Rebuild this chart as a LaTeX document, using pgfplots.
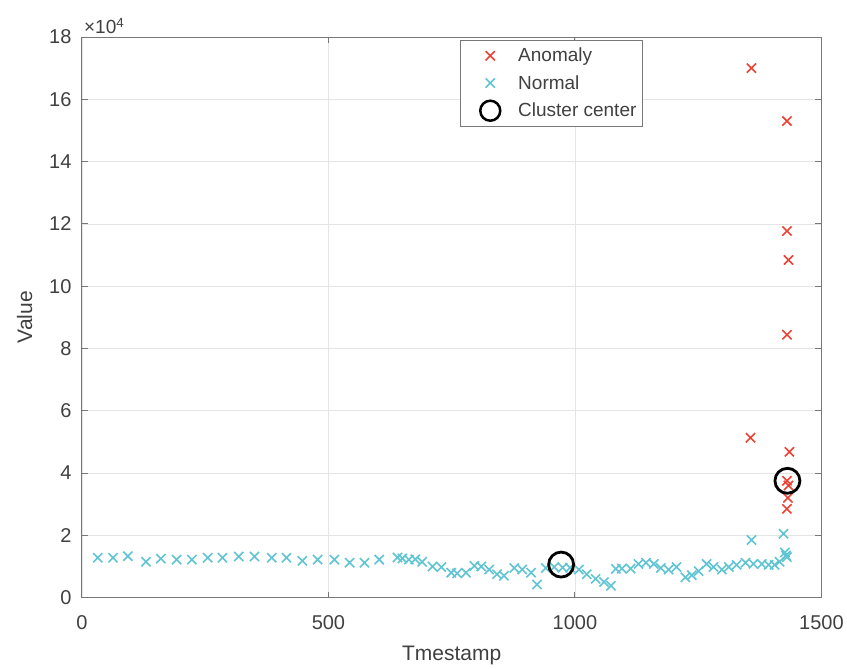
\documentclass[border=0pt]{standalone}
\usepackage{pgfplots}
\pgfplotsset{compat=1.18}
\usepackage{fontspec}
\setmainfont{Liberation Sans}
\definecolor{anom}{RGB}{234,67,53}
\definecolor{norm}{RGB}{96,196,210}
\definecolor{txt}{RGB}{64,64,64}
\definecolor{axc}{RGB}{120,120,120}
\pgfplotsset{myleg/.style={legend image code/.code={\path[draw=none,fill=none] (0pt,-1pt) rectangle (52pt,1pt);\draw[##1, only marks] plot coordinates {(26pt,0pt)};}}}
\begin{document}
\begin{tikzpicture}
\begin{axis}[name=ax, scale only axis, width=740pt, height=561pt,
  xmin=0, xmax=1500, ymin=0, ymax=180000,
  xtick={0,500,1000,1500}, xticklabels={0,500,1000,1500},
  ytick={0,20000,40000,60000,80000,100000,120000,140000,160000,180000},
  yticklabels={0,2,4,6,8,10,12,14,16,18},
  scaled y ticks=false, scaled x ticks=false,
  tick align=inside, major tick length=6pt,
  grid=major, grid style={line width=0.6pt, black!10},
  axis line style={axc, line width=0.9pt},
  tick style={axc, line width=0.9pt},
  /pgf/number format/assume math mode=true,
  ticklabel style={font=\fontsize{20}{24}\selectfont, text=txt},
  xticklabel style={yshift=-14pt},
  yticklabel style={xshift=-7pt},
  xlabel={Tmestamp}, ylabel={Value},
  label style={font=\fontsize{21}{25}\selectfont, text=txt},
  xlabel style={yshift=-10pt},
  ylabel style={yshift=10pt},
  every axis plot post/.append style={myleg},
  legend style={at={(rel axis cs:0.511,0.995)}, anchor=north west, draw=axc, line width=0.9pt, font=\fontsize{19}{23}\selectfont, text=txt, row sep=8pt, inner xsep=4pt, inner ysep=6pt},
  legend cell align=left,
  clip=false,
]
\addplot[only marks, mark=x, mark size=6.5pt, draw=anom, mark options={line width=1.6pt}] coordinates {
(1358,170000) (1430,153000) (1430,117700) (1433,108400) (1430,84400)
(1356,51300) (1435,46800) (1430,37500) (1433,36000) (1432,32000) (1430,28500)
};
\addlegendentry{Anomaly}
\addplot[only marks, mark=x, mark size=6.5pt, draw=norm, mark options={line width=1.6pt}] coordinates {
(32,12800) (63,12800) (93,13300) (130,11500) (160,12500) (192,12200) (223,12200)
(255,12800) (285,12800) (318,13200) (350,13200) (385,12800) (415,12800) (447,11800)
(478,12200) (512,12200) (543,11200) (573,11200) (603,12200) (640,12900) (650,12600)
(663,12200) (676,12300) (690,11500) (711,10000) (729,9800) (749,8000) (761,7800)
(779,8000) (796,10200) (810,10000) (826,9000) (842,7500) (856,7000) (877,9500)
(893,9000) (911,8000) (923,4200) (941,9500) (958,9800) (975,9600) (990,9600)
(1008,9000) (1024,7500) (1042,6000) (1059,5000) (1073,3800) (1083,9200) (1095,9300)
(1113,9300) (1129,10800) (1144,11200) (1160,10800) (1174,9500) (1190,9000) (1206,9800)
(1224,6500) (1237,7200) (1251,8500) (1267,10800) (1281,9800) (1298,9000) (1312,9800)
(1328,10500) (1346,11200) (1358,18500) (1362,10800) (1379,10800) (1393,10500)
(1405,10500) (1415,11500) (1423,20500) (1426,14500) (1428,13500) (1430,13000)
};
\addlegendentry{Normal}
\addplot[only marks, mark=o, mark size=12.5pt, draw=black, mark options={line width=2.8pt}, legend image post style={mark size=10pt, mark options={line width=2.5pt}}] coordinates {
(972,10600) (1431,37500)
};
\addlegendentry{Cluster center}
\node[anchor=south west, inner sep=0pt, xshift=2pt, yshift=3pt, font=\fontsize{19}{21}\selectfont, text=txt] at (rel axis cs:0,1) {×10\textsuperscript{4}};
\end{axis}
\path ([shift={(-82pt,-71pt)}]ax.south west) rectangle ([shift={(25pt,37pt)}]ax.north east);
\end{tikzpicture}
\end{document}
